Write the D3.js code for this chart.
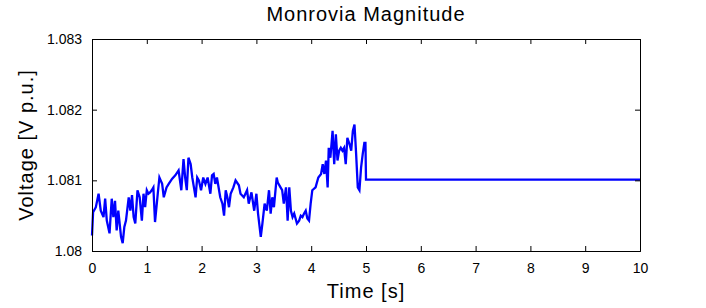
<!DOCTYPE html>
<html>
<head>
<meta charset="utf-8">
<script src="https://cdn.jsdelivr.net/npm/d3@7"></script>
<style>
  html, body { margin: 0; padding: 0; background: #fff; }
  svg { display: block; font-family: "Liberation Sans", Arial, sans-serif; }
</style>
</head>
<body>
<svg id="chart" width="706" height="308"></svg>
<script>
const title = "Monrovia Magnitude";
const xLabel = "Time [s]";
const yLabel = "Voltage [V p.u.]";

const times = [
  0.00, 0.02, 0.07, 0.12, 0.16, 0.21, 0.24, 0.27, 0.32, 0.36, 0.39, 0.42, 0.45, 0.48, 0.53, 0.56, 0.59, 0.62, 0.67, 0.70,
  0.73, 0.76, 0.79, 0.83, 0.87, 0.91, 0.94, 0.97, 1.00, 1.03, 1.06, 1.09, 1.12, 1.15, 1.20, 1.23, 1.28, 1.31, 1.36, 1.40,
  1.46, 1.52, 1.58, 1.63, 1.67, 1.70, 1.73, 1.76, 1.80, 1.83, 1.86, 1.89, 1.92, 1.95, 1.99, 2.03, 2.07, 2.11, 2.16, 2.19,
  2.22, 2.25, 2.28, 2.34, 2.38, 2.41, 2.44, 2.47, 2.50, 2.53, 2.58, 2.62, 2.68, 2.71, 2.77, 2.83, 2.86, 2.91, 2.96, 3.00,
  3.03, 3.08, 3.11, 3.15, 3.19, 3.23, 3.26, 3.29, 3.32, 3.37, 3.39, 3.44, 3.47, 3.50, 3.54, 3.57, 3.60, 3.63, 3.66, 3.69,
  3.74, 3.78, 3.81, 3.84, 3.87, 3.90, 3.93, 3.96, 3.99, 4.02, 4.08, 4.13, 4.18, 4.21, 4.24, 4.27, 4.30, 4.32, 4.35, 4.39,
  4.42, 4.45, 4.48, 4.51, 4.54, 4.57, 4.60, 4.63, 4.66, 4.70, 4.73, 4.76, 4.79, 4.82, 4.85, 4.88, 4.91, 4.94, 4.97, 4.99,
  5.00, 10.00
];
const volts = [
  1.08022, 1.08055, 1.08062, 1.08081, 1.08057, 1.08048, 1.08074, 1.08043, 1.08025, 1.08074, 1.08048, 1.08071, 1.08029, 1.08057, 1.08020, 1.08011, 1.08034, 1.08043, 1.08076, 1.08057,
  1.08079, 1.08048, 1.08039, 1.08086, 1.08076, 1.08043, 1.08081, 1.08062, 1.08086, 1.08081, 1.08083, 1.08086, 1.08090, 1.08041, 1.08081, 1.08104, 1.08095, 1.08076, 1.08090, 1.08095,
  1.08102, 1.08107, 1.08114, 1.08086, 1.08130, 1.08104, 1.08086, 1.08132, 1.08123, 1.08104, 1.08090, 1.08076, 1.08104, 1.08100, 1.08086, 1.08104, 1.08095, 1.08104, 1.08081, 1.08107,
  1.08109, 1.08095, 1.08104, 1.08076, 1.08067, 1.08050, 1.08086, 1.08076, 1.08062, 1.08081, 1.08090, 1.08100, 1.08093, 1.08081, 1.08076, 1.08086, 1.08067, 1.08083, 1.08057, 1.08081,
  1.08053, 1.08020, 1.08039, 1.08067, 1.08057, 1.08086, 1.08053, 1.08076, 1.08062, 1.08104, 1.08097, 1.08090, 1.08086, 1.08067, 1.08090, 1.08043, 1.08090, 1.08057, 1.08048, 1.08053,
  1.08039, 1.08043, 1.08050, 1.08048, 1.08053, 1.08057, 1.08046, 1.08043, 1.08067, 1.08086, 1.08090, 1.08104, 1.08109, 1.08123, 1.08109, 1.08128, 1.08090, 1.08146, 1.08132, 1.08170,
  1.08123, 1.08165, 1.08128, 1.08142, 1.08146, 1.08142, 1.08146, 1.08123, 1.08160, 1.08151, 1.08142, 1.08170, 1.08179, 1.08137, 1.08090, 1.08086, 1.08118, 1.08137, 1.08153, 1.08153,
  1.08101, 1.08101
];

const xTicks = [0, 1, 2, 3, 4, 5, 6, 7, 8, 9, 10];
const yTicks = [1.080, 1.081, 1.082, 1.083];
const yTickLabels = ["1.08", "1.081", "1.082", "1.083"];

const svg = d3.select("#chart");
const mLeft = 92, mRight = 640, mTop = 39, mBottom = 251;

const x = d3.scaleLinear().domain([0, 10]).range([mLeft, mRight]);
const y = d3.scaleLinear().domain([1.080, 1.083]).range([mBottom, mTop]);

const data = times.map((t, i) => ({ t, v: volts[i] }));

svg.append("rect")
  .attr("x", mLeft).attr("y", mTop)
  .attr("width", mRight - mLeft).attr("height", mBottom - mTop)
  .attr("fill", "#fff");

// data line
svg.append("path")
  .datum(data)
  .attr("fill", "none")
  .attr("stroke", "#0000ff")
  .attr("stroke-width", 2.3)
  .attr("stroke-linejoin", "miter")
  .attr("d", d3.line().x(d => x(d.t)).y(d => y(d.v)));

// axes (ticks inward)
const tickStyle = g => {
  g.selectAll(".domain").attr("stroke", "#000");
  g.selectAll(".tick line").attr("stroke", "#000");
};

const xAxisB = d3.axisBottom(x).tickValues(xTicks).tickSize(-5).tickPadding(12).tickFormat(d3.format("d"));
svg.append("g").attr("transform", `translate(0,${mBottom})`).call(xAxisB)
  .call(tickStyle)
  .call(g => g.selectAll(".tick text").attr("font-size", 14).attr("fill", "#000").attr("font-family", "Liberation Sans, Arial, sans-serif"));

const xAxisT = d3.axisTop(x).tickValues(xTicks).tickSize(-5).tickFormat("");
svg.append("g").attr("transform", `translate(0,${mTop})`).call(xAxisT).call(tickStyle);

const yAxisL = d3.axisLeft(y).tickValues(yTicks).tickSize(-5).tickPadding(10)
  .tickFormat((d, i) => yTickLabels[i]);
svg.append("g").attr("transform", `translate(${mLeft},0)`).call(yAxisL)
  .call(tickStyle)
  .call(g => g.selectAll(".tick text").attr("font-size", 14).attr("fill", "#000").attr("font-family", "Liberation Sans, Arial, sans-serif"));

const yAxisR = d3.axisRight(y).tickValues(yTicks).tickSize(-5).tickFormat("");
svg.append("g").attr("transform", `translate(${mRight},0)`).call(yAxisR).call(tickStyle);

// title and labels
svg.append("text")
  .attr("x", (mLeft + mRight) / 2).attr("y", 21)
  .attr("text-anchor", "middle")
  .attr("font-size", 20).attr("letter-spacing", 1)
  .attr("fill", "#000")
  .text(title);

svg.append("text")
  .attr("x", (mLeft + mRight) / 2).attr("y", 298)
  .attr("text-anchor", "middle")
  .attr("font-size", 20).attr("letter-spacing", 1)
  .attr("fill", "#000")
  .text(xLabel);

svg.append("text")
  .attr("transform", `translate(33,${(mTop + mBottom) / 2}) rotate(-90)`)
  .attr("text-anchor", "middle")
  .attr("font-size", 20).attr("letter-spacing", 1)
  .attr("fill", "#000")
  .text(yLabel);
</script>
</body>
</html>
